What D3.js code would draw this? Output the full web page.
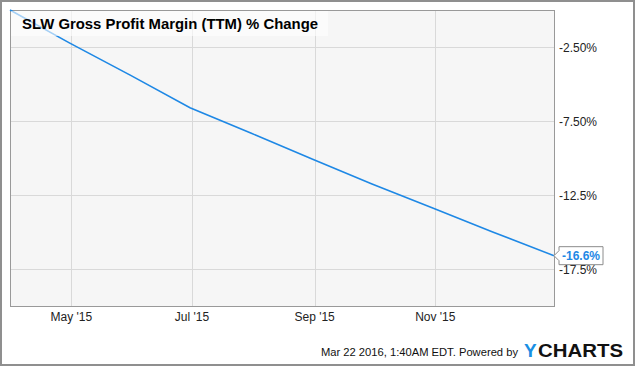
<!DOCTYPE html>
<html><head><meta charset="utf-8">
<script src="https://cdn.jsdelivr.net/npm/d3@7"></script>
<style>body{margin:0;background:#fff}svg{display:block;font-family:Arial,"Liberation Sans",sans-serif}</style>
</head><body><svg id="c" width="635" height="366"></svg>
<script>
const title = "SLW Gross Profit Margin (TTM) % Change";
const dates = ["2015-03-31","2015-04-30","2015-05-31","2015-06-30","2015-07-31","2015-08-31","2015-09-30","2015-10-31","2015-11-30","2015-12-31"];
const values = [0, -2.22, -4.42, -6.6, -8.33, -10.08, -11.76, -13.39, -15.0, -16.6];
const xTickDates = ["2015-05-01","2015-07-01","2015-09-01","2015-11-01"];
const xTickLabels = ["May '15","Jul '15","Sep '15","Nov '15"];
const yTicks = [-2.5, -7.5, -12.5, -17.5];
const yTickLabels = ["-2.50%","-7.50%","-12.5%","-17.5%"];
const lastLabel = "-16.6%";
const footer = "Mar 22 2016, 1:40AM EDT. Powered by";

const parse = d3.utcParse("%Y-%m-%d");
const svg = d3.select("#c");
const L = 10, T = 10, R = 554, B = 306;
const x = d3.scaleUtc().domain([parse(dates[0]), parse(dates[dates.length-1])]).range([L, R]);
const y = d3.scaleLinear().domain([-20, 0]).range([B, T]);

// outer frame
svg.append("rect").attr("x",1).attr("y",1).attr("width",633).attr("height",364)
  .attr("fill","#fff").attr("stroke","#8f8f8f").attr("stroke-width",2);
// plot area
svg.append("rect").attr("x",L+0.5).attr("y",T+0.5).attr("width",R-L).attr("height",B-T)
  .attr("fill","#f6f6f6").attr("stroke","#999").attr("stroke-width",1);

const g = svg.append("g");
g.selectAll(".hg").data(yTicks).join("line")
  .attr("x1",L+1).attr("x2",R).attr("y1",d=>Math.round(y(d))+0.5).attr("y2",d=>Math.round(y(d))+0.5)
  .attr("stroke","#d9d9d9").attr("stroke-width",1);
g.selectAll(".vg").data(xTickDates).join("line")
  .attr("x1",d=>Math.round(x(parse(d)))+0.5).attr("x2",d=>Math.round(x(parse(d)))+0.5)
  .attr("y1",T+1).attr("y2",B)
  .attr("stroke","#d9d9d9").attr("stroke-width",1);

// y labels
svg.selectAll(".yl").data(yTicks).join("text")
  .attr("x",R+5).attr("y",d=>y(d)+4.5).attr("font-size",12).attr("fill","#222")
  .text((d,i)=>yTickLabels[i]);
// x labels
svg.selectAll(".xl").data(xTickDates).join("text")
  .attr("x",d=>x(parse(d))).attr("y",321).attr("text-anchor","middle").attr("font-size",12).attr("fill","#222")
  .text((d,i)=>xTickLabels[i]);

// line
const line = d3.line().x((d,i)=>x(parse(dates[i]))).y(d=>y(d));
svg.append("path").datum(values).attr("d",line).attr("fill","none")
  .attr("stroke","#1e88e5").attr("stroke-width",1.6);

// title box
svg.append("rect").attr("x",L+1).attr("y",T+1).attr("width",317).attr("height",25)
  .attr("fill","rgba(255,255,255,0.6)");
svg.append("text").attr("x",22).attr("y",29).attr("font-size",15).attr("font-weight","bold")
  .attr("textLength",296).attr("lengthAdjust","spacingAndGlyphs")
  .attr("fill","#000").text(title);

// last value label
const lx = x(parse(dates[dates.length-1])), ly = y(values[values.length-1]);
const bx = lx+5, bw = 44, bh = 18;
svg.append("path")
  .attr("d",`M${lx},${ly} L${bx},${ly-5} L${bx},${ly-bh/2} L${bx+bw},${ly-bh/2} L${bx+bw},${ly+bh/2} L${bx},${ly+bh/2} L${bx},${ly+5} Z`)
  .attr("fill","#fff").attr("stroke","#8c8c8c").attr("stroke-width",1);
svg.append("text").attr("x",bx+3).attr("y",ly+4.5).attr("font-size",12).attr("font-weight","bold")
  .attr("fill","#1e88e5").text(lastLabel);

// footer
svg.append("text").attr("x",518).attr("y",356).attr("text-anchor","end").attr("font-size",11.2).attr("fill","#111")
  .text(footer);
svg.append("text").attr("x",524).attr("y",356.5).attr("font-size",19).attr("font-weight","bold")
  .attr("fill","#1a8fe3").text("Y");
svg.append("text").attr("x",538).attr("y",356.5).attr("font-size",19).attr("font-weight","bold")
  .attr("textLength",85).attr("lengthAdjust","spacingAndGlyphs")
  .attr("fill","#111").text("CHARTS");
</script></body></html>
